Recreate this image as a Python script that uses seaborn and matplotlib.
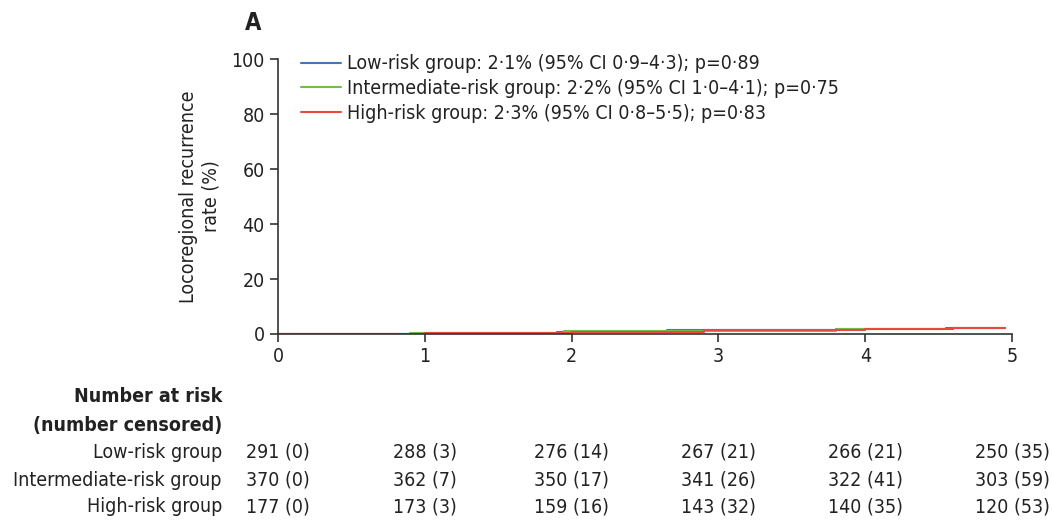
import matplotlib
matplotlib.use("Agg")
import matplotlib.pyplot as plt
import matplotlib.transforms as mtransforms
import seaborn as sns
import pandas as pd

sns.set_theme(style="ticks")
plt.rcParams['font.family'] = ['DejaVu Sans']
plt.rcParams['font.stretch'] = 'condensed'

# Cumulative incidence step curves (years, %)
low_t = [0.0, 0.95, 1.9, 2.65, 3.8, 4.55, 4.95]
low_v = [0.0, 0.3, 0.7, 1.4, 1.7, 2.1, 2.1]
int_t = [0.0, 0.9, 1.95, 2.6, 3.8, 4.6, 4.95]
int_v = [0.0, 0.3, 1.0, 1.2, 1.8, 2.2, 2.2]
high_t = [0.0, 1.0, 2.0, 2.9, 4.0, 4.6, 4.95]
high_v = [0.0, 0.5, 0.9, 1.3, 1.8, 2.3, 2.3]

groups = ["Low-risk group", "Intermediate-risk group", "High-risk group"]
legend_labels = [
    "Low-risk group: 2\u00b71% (95% CI 0\u00b79\u20134\u00b73); p=0\u00b789",
    "Intermediate-risk group: 2\u00b72% (95% CI 1\u00b70\u20134\u00b71); p=0\u00b775",
    "High-risk group: 2\u00b73% (95% CI 0\u00b78\u20135\u00b75); p=0\u00b783",
]
colors = ["#3f78b5", "#6cc04a", "#e8483e"]

time_points = [0, 1, 2, 3, 4, 5]
at_risk_low = ["291 (0)", "288 (3)", "276 (14)", "267 (21)", "266 (21)", "250 (35)"]
at_risk_int = ["370 (0)", "362 (7)", "350 (17)", "341 (26)", "322 (41)", "303 (59)"]
at_risk_high = ["177 (0)", "173 (3)", "159 (16)", "143 (32)", "140 (35)", "120 (53)"]

frames = []
for g, t, v in zip(legend_labels, [low_t, int_t, high_t], [low_v, int_v, high_v]):
    frames.append(pd.DataFrame({"time": t, "rate": v, "group": g}))
df = pd.concat(frames, ignore_index=True)

fig = plt.figure(figsize=(10.52, 5.2), dpi=100)
ax = fig.add_axes([0.2643, 0.3577, 0.6977, 0.5288])

sns.lineplot(data=df, x="time", y="rate", hue="group", palette=colors,
             drawstyle="steps-post", linewidth=1.5, ax=ax, estimator=None,
             sort=False)

ax.set_xlim(0, 5)
ax.set_ylim(0, 100)
ax.set_xticks(time_points)
ax.set_yticks([0, 20, 40, 60, 80, 100])
ax.tick_params(axis="both", labelsize=14, color="#333333", width=1.2,
               length=6, labelcolor="#222222")
for s in ["top", "right"]:
    ax.spines[s].set_visible(False)
for s in ["left", "bottom"]:
    ax.spines[s].set_color("#333333")
    ax.spines[s].set_linewidth(1.2)
ax.set_xlabel("")
ax.set_ylabel("Locoregional recurrence\nrate (%)", fontsize=14,
              color="#222222", labelpad=8)

leg = ax.legend(loc="upper left", bbox_to_anchor=(0.02, 1.045), frameon=False,
                fontsize=14, handlelength=2.1, handletextpad=0.3,
                labelspacing=0.3, borderaxespad=0)
for t in leg.get_texts():
    t.set_color("#222222")

fig.text(0.233, 0.955, "A", fontsize=17, fontweight="bold", color="#222222",
         ha="left", va="center")

# Number-at-risk table
trans = mtransforms.blended_transform_factory(ax.transData, fig.transFigure)
fig.text(0.211, 1 - 397 / 520, "Number at risk", fontsize=14,
         fontweight="bold", ha="right", va="center", color="#222222")
fig.text(0.211, 1 - 425 / 520, "(number censored)", fontsize=14,
         fontweight="bold", ha="right", va="center", color="#222222")
rows_y = [1 - 452 / 520, 1 - 480 / 520, 1 - 507 / 520]
for name, counts, y in zip(groups, [at_risk_low, at_risk_int, at_risk_high], rows_y):
    fig.text(0.211, y, name, fontsize=14, ha="right", va="center",
             color="#222222")
    for tp, c in zip(time_points, counts):
        ax.text(tp, y, c, transform=trans, fontsize=14, ha="center",
                va="center", color="#222222", clip_on=False)

fig.savefig("out.png", dpi=100)
